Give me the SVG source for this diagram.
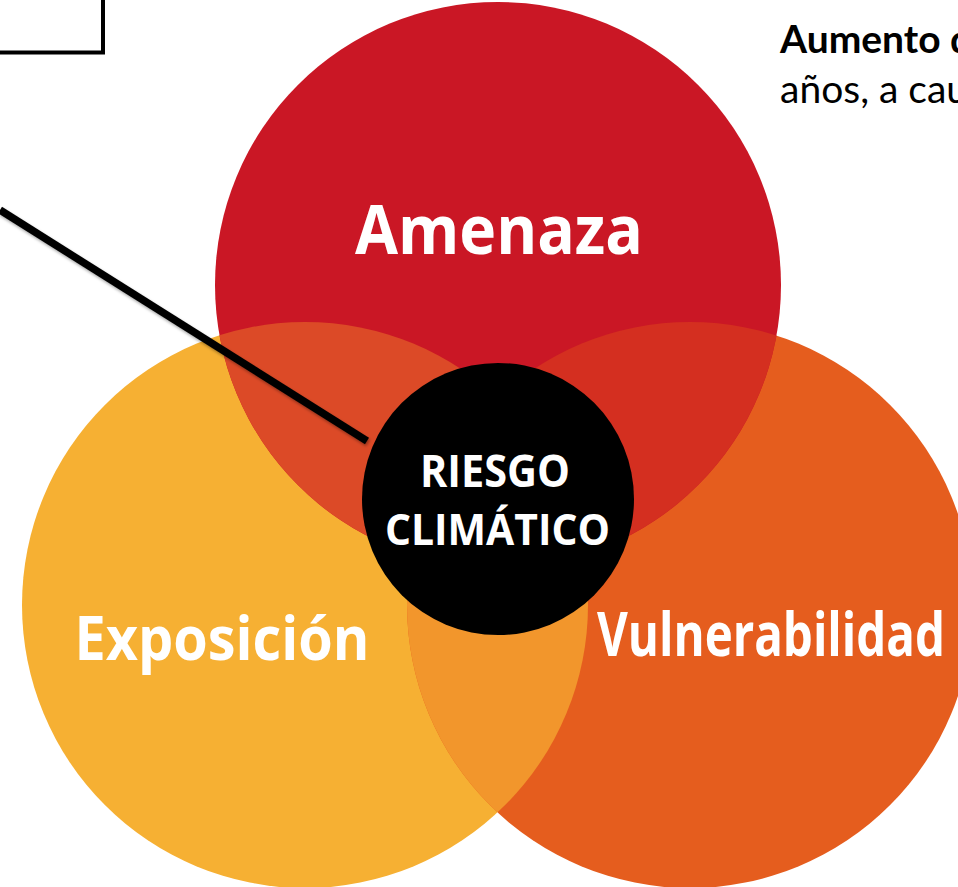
<svg xmlns="http://www.w3.org/2000/svg" width="958" height="887" viewBox="0 0 958 887">
<defs>
<clipPath id="clipYellow"><circle cx="305" cy="605" r="283"/></clipPath>
<clipPath id="clipOrange"><circle cx="690" cy="605" r="283"/></clipPath>
<filter id="shadow" x="-10%" y="-10%" width="120%" height="130%">
<feDropShadow dx="1" dy="2" stdDeviation="1.5" flood-color="#000" flood-opacity="0.35"/>
</filter>
</defs>
<style>
.lbl{font-family:"Open Sans","Noto Sans",sans-serif;font-weight:700;fill:#ffffff;text-anchor:middle}
.note{font-family:Lato,"Liberation Sans",sans-serif;fill:#000000;font-size:39px}
.frame{fill:none;stroke:#000000;stroke-width:4}
.conn{fill:none;stroke:#000000;stroke-width:7.5}
</style>
<rect width="958" height="887" fill="#ffffff"/>

<g id="note-box">
<path class="frame" d="M0,52.5 H103 V0"/>
</g>

<g id="note-text">
<text class="note" x="780" y="53" font-weight="700">Aumento d</text>
<text class="note" x="780" y="103">años, a cau</text>
</g>

<g id="exposicion">
<circle cx="305" cy="605" r="283" fill="#F6B033"/>
</g>
<g id="vulnerabilidad">
<circle cx="690" cy="605" r="283" fill="#E55D1E"/>
</g>
<g id="amenaza">
<circle cx="498" cy="285" r="283" fill="#CA1725"/>
</g>

<g id="overlaps">
<circle cx="498" cy="285" r="283" fill="#DC4A27" clip-path="url(#clipYellow)"/>
<circle cx="498" cy="285" r="283" fill="#D42F20" clip-path="url(#clipOrange)"/>
<circle cx="305" cy="605" r="283" fill="#F2962C" clip-path="url(#clipOrange)"/>
</g>

<g id="labels">
<text class="lbl" x="499" y="254" font-size="68" textLength="288" lengthAdjust="spacingAndGlyphs">Amenaza</text>
<text class="lbl" x="222" y="660" font-size="60" textLength="295" lengthAdjust="spacingAndGlyphs">Exposición</text>
<text class="lbl" x="771" y="656" font-size="60" textLength="348" lengthAdjust="spacingAndGlyphs">Vulnerabilidad</text>
</g>

<g id="riesgo">
<circle cx="498" cy="499" r="136" fill="#000000"/>
<text class="lbl" x="495" y="487" font-size="44" textLength="150" lengthAdjust="spacingAndGlyphs">RIESGO</text>
<text class="lbl" x="497.5" y="545" font-size="43" textLength="225" lengthAdjust="spacingAndGlyphs">CLIMÁTICO</text>
</g>

<g id="connectors">
<path class="conn" d="M0,210 L367,441" filter="url(#shadow)"/>
</g>
</svg>
